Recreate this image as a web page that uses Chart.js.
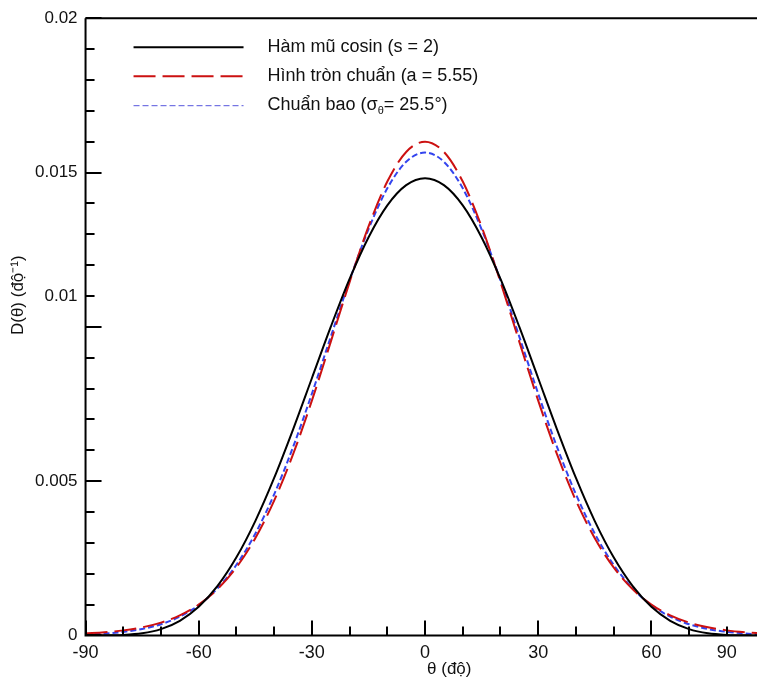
<!DOCTYPE html>
<html>
<head>
<meta charset="utf-8">
<script src="https://cdn.jsdelivr.net/npm/chart.js@4.4.1/dist/chart.umd.min.js"></script>
<style>
  html, body { margin: 0; padding: 0; background: #fff; }
  #wrap { width: 757px; height: 684px; }
</style>
</head>
<body>
<div id="wrap"><canvas id="spreadChart"></canvas></div>
<script>
// góc theta (độ)
const theta = [-90, -85, -80, -75, -70, -65, -60, -55, -50, -45, -40, -35, -30, -25, -20, -15, -10, -5,
  0, 5, 10, 15, 20, 25, 30, 35, 40, 45, 50, 55, 60, 65, 70, 75, 80, 85, 90];

// Hàm mũ cosin (s = 2)
const cosinPower = [0, 0.000001, 0.0000135, 0.0000665, 0.000203, 0.000473, 0.000926, 0.001603, 0.002529,
  0.003704, 0.005102, 0.00667, 0.008333, 0.009995, 0.011552, 0.012896, 0.013935, 0.01459,
  0.014815, 0.01459, 0.013935, 0.012896, 0.011552, 0.009995, 0.008333, 0.00667, 0.005102,
  0.003704, 0.002529, 0.001603, 0.000926, 0.000473, 0.000203, 0.0000665, 0.0000135, 0.000001, 0];

// Hình tròn chuẩn (a = 5.55)
const circularNormal = [0.000062, 0.000101, 0.000163, 0.000262, 0.000415, 0.000649, 0.000998, 0.001501,
  0.002204, 0.003149, 0.004367, 0.005864, 0.007607, 0.009513, 0.011449, 0.013243, 0.014706, 0.015666,
  0.016, 0.015666, 0.014706, 0.013243, 0.011449, 0.009513, 0.007607, 0.005864, 0.004367, 0.003149,
  0.002204, 0.001501, 0.000998, 0.000649, 0.000415, 0.000262, 0.000163, 0.000101, 0.000062];

// Chuẩn bao (sigma = 25.5 độ)
const wrappedNormal = [0.000031, 0.0000605, 0.000114, 0.000207, 0.000362, 0.000608, 0.000982, 0.001528,
  0.002288, 0.003297, 0.004572, 0.0061, 0.007831, 0.009675, 0.011503, 0.01316, 0.014487, 0.015347,
  0.015645, 0.015347, 0.014487, 0.01316, 0.011503, 0.009675, 0.007831, 0.0061, 0.004572, 0.003297,
  0.002288, 0.001528, 0.000982, 0.000608, 0.000362, 0.000207, 0.000114, 0.0000605, 0.000031];

const seriesLabels = ["Hàm mũ cosin (s = 2)", "Hình tròn chuẩn (a = 5.55)", "Chuẩn bao (σ"];

// tick marks along x, and the labels where the reference prints them
const xTicks = [-90, -80, -70, -60, -50, -40, -30, -20, -10, 0, 10, 20, 30, 40, 50, 60, 70, 80];
const xTickValues = [-90, -60, -30, 0, 30, 60, 80];
const xTickText = ["-90", "-60", "-30", "0", "30", "60", "90"];
const yTickValues = [0, 0.005, 0.011, 0.015, 0.02];
const yTickText = ["0", "0.005", "0.01", "0.015", "0.02"];

const FONT = "'Liberation Sans', Arial, sans-serif";

function pts(ys) {
  return theta.map((t, i) => ({ x: t, y: ys[i] }));
}

function near(a, b) {
  return Math.abs(a - b) < 1e-9;
}

// ticks pointing into the plot, frame and axis titles
const frame = {
  id: "frame",
  afterDatasetsDraw(chart) {
    const { ctx, chartArea: a, scales } = chart;
    ctx.save();
    ctx.strokeStyle = "#000";
    ctx.lineWidth = 2;
    scales.x.ticks.forEach((t) => {
      const px = Math.round(scales.x.getPixelForValue(t.value));
      const len = t.value % 30 === 0 ? 15 : 9;
      ctx.beginPath();
      ctx.moveTo(px, a.bottom);
      ctx.lineTo(px, a.bottom - len);
      ctx.stroke();
    });
    scales.y.ticks.forEach((t) => {
      const py = Math.round(scales.y.getPixelForValue(t.value));
      const major = Math.round(t.value * 1000) % 5 === 0;
      ctx.beginPath();
      ctx.moveTo(a.left, py);
      ctx.lineTo(a.left + (major ? 16 : 9), py);
      ctx.stroke();
    });
    ctx.beginPath();
    ctx.moveTo(a.left, a.top);
    ctx.lineTo(chart.width, a.top);
    ctx.moveTo(a.left, a.top);
    ctx.lineTo(a.left, a.bottom);
    ctx.lineTo(chart.width, a.bottom);
    ctx.stroke();

    ctx.fillStyle = "#111";
    ctx.font = "17px " + FONT;
    ctx.textBaseline = "middle";
    ctx.textAlign = "left";
    ctx.fillText("θ (độ)", scales.x.getPixelForValue(0) + 2, a.bottom + 34);
    ctx.translate(18, a.top + 277);
    ctx.rotate(-Math.PI / 2);
    ctx.textAlign = "center";
    ctx.fillText("D(θ) (độ⁻¹)", 0, 0);
    ctx.restore();
  },
};

// legend inside the plot, top left
const innerLegend = {
  id: "innerLegend",
  afterDraw(chart) {
    const { ctx, chartArea: a } = chart;
    ctx.save();
    ctx.font = "18px " + FONT;
    ctx.textBaseline = "middle";
    chart.data.datasets.forEach((ds, i) => {
      const y = a.top + 29 + i * 29;
      const off = ds.legendWidth === 1 ? 0.5 : 0;
      ctx.strokeStyle = ds.legendColor || ds.borderColor;
      ctx.lineWidth = ds.legendWidth || ds.borderWidth;
      ctx.setLineDash(ds.borderDash || []);
      ctx.beginPath();
      ctx.moveTo(a.left + 48, y + off);
      ctx.lineTo(a.left + 158, y + off);
      ctx.stroke();
      ctx.setLineDash([]);
      ctx.fillStyle = "#111";
      let x = a.left + 182;
      ctx.fillText(ds.label, x, y);
      if (i === 2) {
        x += ctx.measureText(ds.label).width;
        ctx.font = "11px " + FONT;
        ctx.fillText("θ", x, y + 6);
        x += ctx.measureText("θ").width;
        ctx.font = "18px " + FONT;
        ctx.fillText("= 25.5°)", x, y);
      }
    });
    ctx.restore();
  },
};

new Chart(document.getElementById("spreadChart"), {
  type: "line",
  data: {
    datasets: [
      {
        label: seriesLabels[0],
        data: pts(cosinPower),
        borderColor: "#000000",
        borderWidth: 2,
        pointRadius: 0,
        cubicInterpolationMode: "monotone",
      },
      {
        label: seriesLabels[1],
        data: pts(circularNormal),
        borderColor: "#cc1111",
        borderWidth: 2,
        borderDash: [22, 7],
        pointRadius: 0,
        cubicInterpolationMode: "monotone",
      },
      {
        label: seriesLabels[2],
        data: pts(wrappedNormal),
        borderColor: "#3344ee",
        borderWidth: 2,
        borderDash: [6, 3],
        legendColor: "#5555dd",
        legendWidth: 1,
        pointRadius: 0,
        cubicInterpolationMode: "monotone",
      },
    ],
  },
  options: {
    responsive: true,
    maintainAspectRatio: false,
    animation: false,
    layout: { autoPadding: false, padding: { top: 15, right: 0, left: 27, bottom: 13 } },
    plugins: { legend: { display: false }, tooltip: { enabled: false } },
    scales: {
      x: {
        type: "linear",
        min: -90,
        max: 88,
        grid: { display: false, drawTicks: false },
        border: { display: false },
        afterBuildTicks: (scale) => {
          scale.ticks = xTicks.map((v) => ({ value: v }));
        },
        ticks: {
          autoSkip: false,
          maxRotation: 0,
          padding: 7,
          color: "#111",
          font: { family: FONT, size: 18 },
          callback: (v) => {
            const k = xTickValues.findIndex((t) => near(t, v));
            return k < 0 ? "" : xTickText[k];
          },
        },
      },
      y: {
        min: 0,
        max: 0.02,
        grid: { display: false, drawTicks: false },
        border: { display: false },
        ticks: {
          stepSize: 0.001,
          autoSkip: false,
          padding: 8,
          color: "#111",
          font: { family: FONT, size: 17 },
          callback: (v) => {
            const k = yTickValues.findIndex((t) => near(t, v));
            return k < 0 ? "" : yTickText[k];
          },
        },
      },
    },
  },
  plugins: [frame, innerLegend],
});
</script>
</body>
</html>
